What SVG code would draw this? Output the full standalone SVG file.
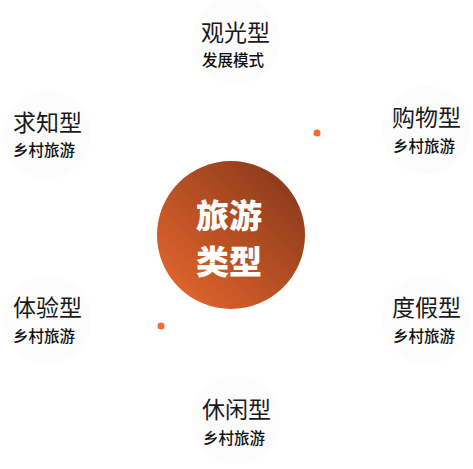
<svg xmlns="http://www.w3.org/2000/svg" width="473" height="469" viewBox="0 0 473 469">
<defs>
<linearGradient id="g" x1="0" y1="1" x2="1" y2="0">
<stop offset="0" stop-color="#ec6a2e"/>
<stop offset="1" stop-color="#7f3519"/>
</linearGradient>
<style>
.bg{fill:#fcfcfc}
.t{font-family:"Noto Sans CJK SC","Noto Sans",sans-serif;font-size:23px;fill:#1a1a1a}
.s{font-family:"Noto Sans CJK SC","Noto Sans",sans-serif;font-size:15.5px;font-weight:500;fill:#111}
.c{font-family:"Noto Sans CJK SC",sans-serif;font-size:33px;font-weight:900;fill:#fff;text-anchor:middle}
.dot{fill:#fb6a2b}
</style>
</defs>
<rect width="473" height="469" fill="#fff"/>
<g id="center">
<circle cx="231" cy="235" r="74" fill="url(#g)"/>
<text class="c" x="229" y="228">旅游</text>
<text class="c" x="229" y="274">类型</text>
</g>
<g id="connectors">
<circle class="dot" cx="317" cy="133" r="3.5"/>
<circle class="dot" cx="161" cy="326" r="3.5"/>
</g>
<g id="n-top">
<circle class="bg" cx="236" cy="40" r="44"/>
<text class="t" x="201" y="41">观光型</text>
<text class="s" x="202" y="66">发展模式</text>
</g>
<g id="n-lt">
<circle class="bg" cx="47" cy="135" r="44"/>
<text class="t" x="13" y="131">求知型</text>
<text class="s" x="13" y="156">乡村旅游</text>
</g>
<g id="n-rt">
<circle class="bg" cx="426" cy="130" r="44"/>
<text class="t" x="392" y="126">购物型</text>
<text class="s" x="393" y="152">乡村旅游</text>
</g>
<g id="n-lb">
<circle class="bg" cx="47" cy="320" r="44"/>
<text class="t" x="13" y="316">体验型</text>
<text class="s" x="13" y="342">乡村旅游</text>
</g>
<g id="n-rb">
<circle class="bg" cx="426" cy="320" r="44"/>
<text class="t" x="392" y="316">度假型</text>
<text class="s" x="393" y="342">乡村旅游</text>
</g>
<g id="n-bottom">
<circle class="bg" cx="236" cy="420" r="44"/>
<text class="t" x="202" y="418">休闲型</text>
<text class="s" x="203" y="444">乡村旅游</text>
</g>
</svg>
